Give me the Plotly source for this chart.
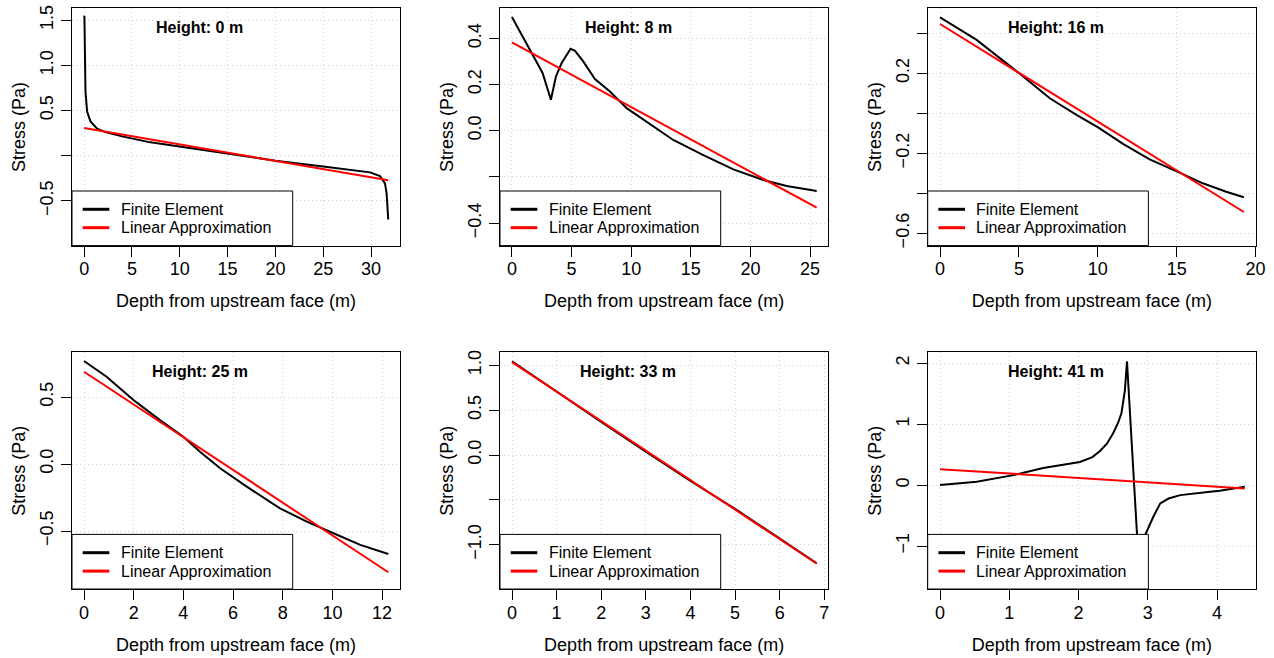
import plotly.graph_objects as go

# ---------------- data ----------------
heights = ["Height: 0 m", "Height: 8 m", "Height: 16 m", "Height: 25 m", "Height: 33 m", "Height: 41 m"]

depth_0 = [0.0, 0.03, 0.14, 0.31, 0.66, 1.36, 2.23, 3.97, 6.93, 10.0, 15.6, 20.0, 25.0, 26.76, 29.9, 30.94, 31.46, 31.63, 31.8]
fe_0 = [1.55, 1.535, 0.71, 0.49, 0.38, 0.30, 0.262, 0.214, 0.148, 0.10, 0.008, -0.055, -0.12, -0.14, -0.184, -0.225, -0.306, -0.417, -0.705]
lin_x_0 = [0.0, 31.8]
lin_y_0 = [0.306, -0.27]

depth_8 = [0.0, 1.51, 2.57, 3.27, 3.69, 4.17, 4.92, 5.29, 5.98, 6.96, 8.22, 9.62, 10.88, 13.53, 16.05, 18.57, 21.08, 23.04, 25.56]
fe_8 = [0.492, 0.351, 0.25, 0.134, 0.235, 0.293, 0.355, 0.346, 0.30, 0.224, 0.17, 0.098, 0.054, -0.040, -0.105, -0.167, -0.213, -0.239, -0.261]
lin_x_8 = [0.0, 25.56]
lin_y_8 = [0.383, -0.333]

depth_16 = [0.0, 2.32, 5.02, 6.96, 8.65, 10.02, 11.6, 13.29, 15.08, 16.66, 18.14, 19.26]
fe_16 = [0.48, 0.367, 0.2, 0.075, -0.008, -0.07, -0.153, -0.23, -0.293, -0.35, -0.392, -0.42]
lin_x_16 = [0.0, 19.26]
lin_y_16 = [0.4465, -0.4935]

depth_25 = [0.0, 0.91, 1.99, 3.06, 4.0, 4.67, 5.48, 6.55, 7.89, 8.97, 10.04, 11.12, 12.25]
fe_25 = [0.769, 0.652, 0.478, 0.328, 0.204, 0.092, -0.032, -0.169, -0.331, -0.43, -0.517, -0.604, -0.672]
lin_x_25 = [0.0, 12.25]
lin_y_25 = [0.689, -0.808]

depth_33 = [0.0, 1.0, 2.0, 3.0, 4.0, 5.0, 6.0, 6.83]
fe_33 = [1.045, 0.705, 0.37, 0.037, -0.29, -0.60, -0.93, -1.208]
lin_x_33 = [0.0, 6.83]
lin_y_33 = [1.035, -1.21]

depth_41 = [0.0, 0.53, 1.06, 1.49, 2.02, 2.20, 2.31, 2.41, 2.50, 2.57, 2.62, 2.67, 2.70, 2.88, 2.97, 3.08, 3.18, 3.30, 3.47, 3.7, 3.9, 4.04, 4.40]
fe_41 = [0.0, 0.055, 0.164, 0.28, 0.38, 0.46, 0.56, 0.68, 0.85, 1.02, 1.18, 1.56, 2.03, -1.5, -0.8, -0.52, -0.30, -0.22, -0.164, -0.13, -0.11, -0.093, -0.027]
lin_x_41 = [0.0, 4.40]
lin_y_41 = [0.262, -0.055]

x_ticks = [[0, 5, 10, 15, 20, 25, 30], [0, 5, 10, 15, 20, 25], [0, 5, 10, 15, 20],
           [0, 2, 4, 6, 8, 10, 12], [0, 1, 2, 3, 4, 5, 6, 7], [0, 1, 2, 3, 4]]
y_ticks = [[-0.5, 0.0, 0.5, 1.0, 1.5], [-0.4, -0.2, 0.0, 0.2, 0.4], [-0.6, -0.4, -0.2, 0.0, 0.2, 0.4],
           [-0.5, 0.0, 0.5], [-1.0, -0.5, 0.0, 0.5, 1.0], [-1, 0, 1, 2]]
y_tick_text = [["\u22120.5", "", "0.5", "1.0", "1.5"], ["\u22120.4", "", "0.0", "0.2", "0.4"],
               ["\u22120.6", "", "\u22120.2", "", "0.2", ""], ["\u22120.5", "0.0", "0.5"],
               ["\u22121.0", "", "0.0", "0.5", "1.0"], ["\u22121", "0", "1", "2"]]

depths = [depth_0, depth_8, depth_16, depth_25, depth_33, depth_41]
fes = [fe_0, fe_8, fe_16, fe_25, fe_33, fe_41]
lin_xs = [lin_x_0, lin_x_8, lin_x_16, lin_x_25, lin_x_33, lin_x_41]
lin_ys = [lin_y_0, lin_y_8, lin_y_16, lin_y_25, lin_y_33, lin_y_41]

# ---------------- layout geometry (page pixels) ----------------
W, H = 1274, 658
col_px = [(72, 400), (500, 828.3), (927.7, 1256)]
row_px = [(8.3, 245.6), (352.3, 589)]
x_ranges = [[-1.27, 33.03], [-1.0, 26.53], [-0.78, 20.03], [-0.483, 12.72], [-0.269, 7.09], [-0.178, 4.563]]
y_ranges = [[-0.994, 1.631], [-0.497, 0.530], [-0.6615, 0.525], [-0.933, 0.834], [-1.494, 1.145], [-1.705, 2.18]]

FONT = "Liberation Sans, Arial, Helvetica, sans-serif"

fig = go.Figure()
layout = dict(width=W, height=H, margin=dict(l=0, r=0, t=0, b=0, autoexpand=False),
              paper_bgcolor="white", plot_bgcolor="white", showlegend=False,
              font=dict(family=FONT, color="black"))
shapes = []
annotations = []

for i in range(6):
    r, c = divmod(i, 3)
    sfx = "" if i == 0 else str(i + 1)
    xa, ya = "x" + sfx, "y" + sfx
    x0p, x1p = col_px[c]
    y0p, y1p = row_px[r]
    common = dict(showline=True, mirror=True, linecolor="black", linewidth=1,
                  ticks="outside", ticklen=10, tickwidth=1, tickcolor="black",
                  showgrid=True, gridcolor="#d3d3d3", griddash="1px,3px", gridwidth=1,
                  zeroline=False, automargin=False, ticklabeloverflow="allow",
                  tickfont=dict(size=18, family=FONT),
                  title_font=dict(size=18, family=FONT))
    layout["xaxis" + sfx] = dict(common, domain=[x0p / W, x1p / W], range=x_ranges[i],
                                 anchor=ya, tickvals=x_ticks[i],
                                 ticktext=[str(v) for v in x_ticks[i]],
                                 ticklabelstandoff=-3,
                                 title=dict(text="Depth from upstream face (m)", standoff=16))
    layout["yaxis" + sfx] = dict(common, domain=[1 - y1p / H, 1 - y0p / H], range=y_ranges[i],
                                 anchor=xa, tickvals=y_ticks[i], ticktext=y_tick_text[i],
                                 tickangle=-90, ticklabelstandoff=1,
                                 title=dict(text="Stress (Pa)", standoff=6))

    fig.add_trace(go.Scatter(x=depths[i], y=fes[i], mode="lines", name="Finite Element",
                             line=dict(color="black", width=2), xaxis=xa, yaxis=ya))
    fig.add_trace(go.Scatter(x=lin_xs[i], y=lin_ys[i], mode="lines", name="Linear Approximation",
                             line=dict(color="red", width=2), xaxis=xa, yaxis=ya))

    bw = x1p - x0p
    bh = y1p - y0p

    # panel label
    annotations.append(dict(text="<b>" + heights[i] + "</b>", xref=xa + " domain", yref=ya + " domain",
                            x=0.39, y=1 - 18.8 / bh, showarrow=False, font=dict(size=16, family=FONT),
                            xanchor="center", yanchor="middle"))

    # legend box (bottom-left of each panel)
    lx1 = (292.7 - 72) / bw
    ly1 = (245.6 - 191) / bh
    shapes.append(dict(type="rect", xref=xa + " domain", yref=ya + " domain",
                       x0=0, x1=lx1, y0=0, y1=ly1, fillcolor="white",
                       line=dict(color="black", width=1), layer="above"))
    for name, col, ypx in (("Finite Element", "black", 209.3), ("Linear Approximation", "red", 227.7)):
        yy = (245.6 - ypx) / bh
        shapes.append(dict(type="line", xref=xa + " domain", yref=ya + " domain",
                           x0=(82.7 - 72) / bw, x1=(109.3 - 72) / bw, y0=yy, y1=yy,
                           line=dict(color=col, width=3), layer="above"))
        annotations.append(dict(text=name, xref=xa + " domain", yref=ya + " domain",
                                x=(118.7 - 72) / bw, y=yy, xanchor="left", yanchor="middle",
                                showarrow=False, font=dict(size=16, family=FONT)))

layout["shapes"] = shapes
layout["annotations"] = annotations
fig.update_layout(**layout)
# remove the browser's default 8px page margin so the figure fills the window exactly
fig.write_html("out.html", config={"displayModeBar": False},
               post_script="document.body.style.margin='0px';")
